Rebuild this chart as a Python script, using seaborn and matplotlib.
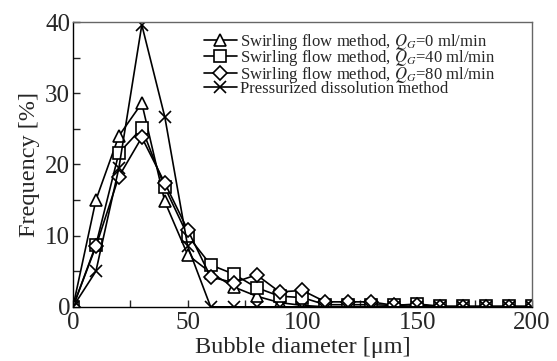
import numpy as np
import pandas as pd
import matplotlib
matplotlib.use("Agg")
import matplotlib.pyplot as plt
from matplotlib.ticker import MultipleLocator
import seaborn as sns

# Bubble diameter bins [um]
diameter = [0, 10, 20, 30, 40, 50, 60, 70, 80, 90, 100, 110, 120, 130, 140, 150,
            160, 170, 180, 190, 200]

# Frequency [%] for each method
swirl_q0 = [0, 15.0, 24.0, 28.6, 14.8, 7.3, 4.8, 2.8, 1.5, 0.6, 0.2, 0, 0, 0, 0, 0,
            0, 0, 0, 0, 0]
swirl_q40 = [0, 8.7, 21.6, 25.1, 16.8, 10.0, 5.9, 4.6, 2.7, 1.5, 1.3, 0.3, 0.3, 0.3, 0.2, 0.4,
             0.1, 0.1, 0.1, 0.1, 0.1]
swirl_q80 = [0, 8.5, 18.3, 23.8, 17.4, 10.8, 4.2, 3.4, 4.5, 2.1, 2.3, 0.7, 0.7, 0.7, 0.2, 0.3,
             0, 0, 0, 0, 0]
pressurized = [0, 5.0, 19.5, 39.6, 26.7, 8.5, 0, 0, 0, 0, 0, 0, 0, 0, 0, 0,
               0, 0, 0, 0, 0]

labels = ["Swirling flow method, $Q_G$=0 ml/min",
          "Swirling flow method, $Q_G$=40 ml/min",
          "Swirling flow method, $Q_G$=80 ml/min",
          "Pressurized dissolution method"]
markers = ["^", "s", "D", "x"]
sizes = [9, 8, 7, 9]

sns.set_style("ticks")
plt.rcParams["font.family"] = ["Liberation Serif", "DejaVu Serif"]
plt.rcParams["mathtext.fontset"] = "stix"

fig = plt.figure(figsize=(5.57, 3.61), dpi=100)
ax = fig.add_axes([0.131, 0.150, 0.824, 0.789])

for vals, lab, mk, ms in zip([swirl_q0, swirl_q40, swirl_q80, pressurized], labels, markers, sizes):
    df = pd.DataFrame({"d": diameter, "f": vals})
    sns.lineplot(data=df, x="d", y="f", ax=ax, color="black", linewidth=1.2,
                 marker=mk, markersize=ms, markerfacecolor="white",
                 markeredgecolor="black", markeredgewidth=1.2, label=lab)

ax.set_xlim(0, 200)
ax.set_ylim(0, 40)
ax.xaxis.set_major_locator(MultipleLocator(50))
ax.xaxis.set_minor_locator(MultipleLocator(25))
ax.yaxis.set_major_locator(MultipleLocator(10))
ax.yaxis.set_minor_locator(MultipleLocator(5))
ax.tick_params(which="both", direction="in", length=5, width=1, labelsize=18)
ax.tick_params(axis="x", pad=4)
ax.tick_params(axis="y", pad=2)

for s in ["top", "right"]:
    ax.spines[s].set_color("#666666")
    ax.spines[s].set_linewidth(1)
for s in ["left", "bottom"]:
    ax.spines[s].set_color("black")
    ax.spines[s].set_linewidth(1)

ax.set_xlabel("Bubble diameter [μm]", fontsize=17.5, labelpad=2)
ax.set_ylabel("Frequency [%]", fontsize=17.5, labelpad=4)

ax.legend(loc="upper left", bbox_to_anchor=(0.285, 0.965), frameon=False,
          fontsize=12, handlelength=2.0, handletextpad=0.2,
          labelspacing=-0.22, borderpad=0, borderaxespad=0)

fig.savefig("out.png", dpi=100)
